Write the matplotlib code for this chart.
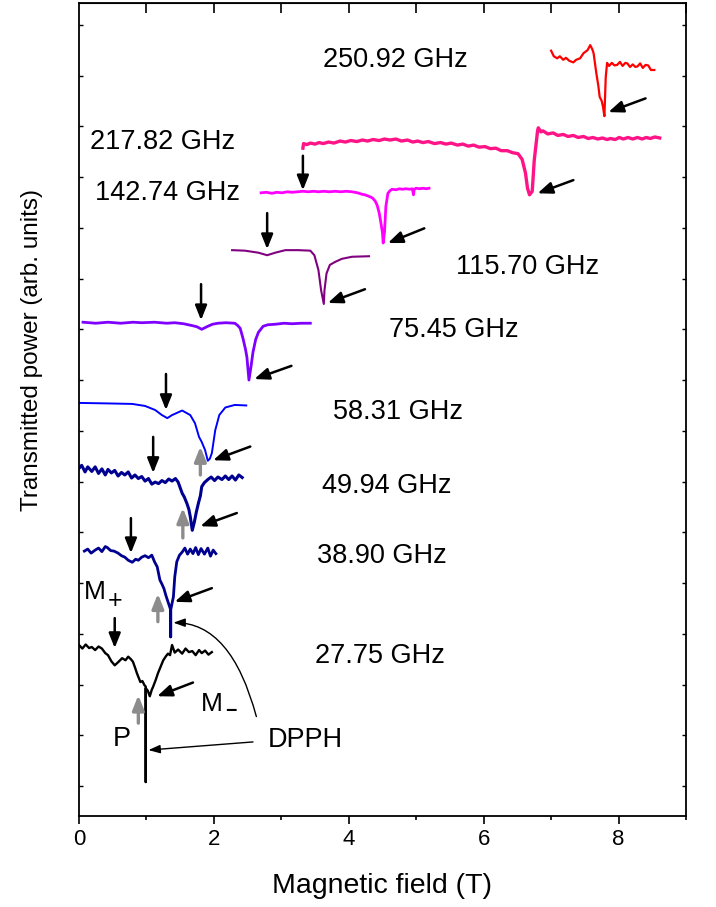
import matplotlib.pyplot as plt

plt.rcParams['font.family'] = ['Liberation Sans', 'DejaVu Sans']
plt.rcParams['mathtext.default'] = 'regular'

# --- spectra (field in T, transmitted power in arb. units, offset per frequency) ---
b_250 = [7.00, 7.04, 7.09, 7.13, 7.18, 7.22, 7.27, 7.33, 7.37, 7.43, 7.48, 7.54, 7.58, 7.61, 7.63,
         7.67, 7.70, 7.72, 7.75, 7.77, 7.79, 7.81, 7.83, 7.86, 7.90, 7.94, 7.98, 8.02, 8.06, 8.10,
         8.13, 8.17, 8.21, 8.25, 8.28, 8.32, 8.36, 8.40, 8.44, 8.48, 8.53]
p_250 = [14.49, 14.38, 14.34, 14.38, 14.31, 14.35, 14.29, 14.26, 14.31, 14.34, 14.44, 14.50, 14.60,
         14.52, 14.44, 14.05, 13.80, 13.58, 13.50, 13.38, 13.20, 13.97, 14.25, 14.19, 14.25, 14.20,
         14.21, 14.27, 14.19, 14.25, 14.24, 14.17, 14.22, 14.17, 14.18, 14.24, 14.15, 14.21, 14.20,
         14.11, 14.11]

b_217 = [3.32, 3.33, 3.38, 3.43, 3.50, 3.56, 3.62, 3.70, 3.78, 3.87, 3.95, 4.03, 4.12, 4.20, 4.28,
         4.36, 4.45, 4.53, 4.61, 4.70, 4.78, 4.87, 4.95, 5.02, 5.10, 5.18, 5.27, 5.36, 5.44, 5.52,
         5.61, 5.69, 5.77, 5.85, 5.93, 6.02, 6.10, 6.18, 6.26, 6.35, 6.43, 6.51, 6.57, 6.62, 6.65,
         6.68, 6.72, 6.75, 6.80, 6.81, 6.85, 6.88, 6.95, 7.03, 7.10, 7.18, 7.25, 7.33, 7.40, 7.48,
         7.55, 7.62, 7.69, 7.76, 7.83, 7.88, 7.95, 8.01, 8.07, 8.14, 8.21, 8.28, 8.35, 8.41, 8.47,
         8.54, 8.61]
p_217 = [12.57, 12.66, 12.64, 12.67, 12.65, 12.68, 12.66, 12.69, 12.67, 12.71, 12.69, 12.72, 12.70,
         12.73, 12.71, 12.74, 12.72, 12.75, 12.73, 12.75, 12.71, 12.73, 12.69, 12.71, 12.68, 12.70,
         12.66, 12.68, 12.65, 12.67, 12.63, 12.65, 12.61, 12.63, 12.59, 12.60, 12.56, 12.57, 12.52,
         12.52, 12.48, 12.46, 12.35, 12.08, 11.78, 11.65, 11.72, 12.33, 12.92, 12.97, 12.89, 12.91,
         12.85, 12.87, 12.82, 12.84, 12.80, 12.82, 12.78, 12.80, 12.76, 12.78, 12.75, 12.77, 12.74,
         12.76, 12.74, 12.78, 12.75, 12.78, 12.75, 12.78, 12.75, 12.78, 12.76, 12.79, 12.77]

b_142 = [2.70, 2.78, 2.86, 2.93, 3.01, 3.09, 3.16, 3.24, 3.32, 3.40, 3.48, 3.55, 3.63, 3.71, 3.80,
         3.88, 3.96, 4.05, 4.13, 4.20, 4.24, 4.30, 4.35, 4.39, 4.42, 4.45, 4.47, 4.50, 4.51, 4.53,
         4.55, 4.58, 4.61, 4.64, 4.70, 4.75, 4.79, 4.85, 4.90, 4.94, 4.95, 4.96, 4.97, 5.00, 5.05,
         5.10, 5.15, 5.19]
p_142 = [11.69, 11.70, 11.68, 11.70, 11.69, 11.71, 11.70, 11.71, 11.72, 11.71, 11.72, 11.71, 11.72,
         11.71, 11.72, 11.71, 11.72, 11.71, 11.69, 11.66, 11.65, 11.62, 11.59, 11.53, 11.45, 11.30,
         11.15, 10.90, 10.70, 10.92, 11.42, 11.68, 11.73, 11.76, 11.75, 11.77, 11.76, 11.77, 11.76,
         11.77, 11.72, 11.65, 11.76, 11.78, 11.77, 11.78, 11.77, 11.78]

b_115 = [2.27, 2.46, 2.66, 2.79, 2.91, 3.06, 3.25, 3.43, 3.49, 3.55, 3.59, 3.63, 3.64, 3.67, 3.72,
         3.80, 3.90, 4.05, 4.30]
p_115 = [10.56, 10.55, 10.51, 10.46, 10.51, 10.56, 10.56, 10.55, 10.46, 10.17, 9.77, 9.50, 9.77,
         10.10, 10.27, 10.33, 10.39, 10.43, 10.44]

b_75 = [0.06, 0.25, 0.43, 0.62, 0.80, 0.93, 1.12, 1.30, 1.42, 1.55, 1.62, 1.69, 1.75, 1.82, 1.91,
        1.98, 2.06, 2.18, 2.31, 2.35, 2.39, 2.43, 2.47, 2.49, 2.52, 2.55, 2.58, 2.62, 2.66, 2.73,
        2.80, 2.91, 3.04, 3.16, 3.30, 3.43]
p_75 = [9.14, 9.12, 9.14, 9.12, 9.14, 9.13, 9.14, 9.12, 9.13, 9.11, 9.09, 9.07, 9.05, 9.00, 9.06,
        9.10, 9.12, 9.13, 9.12, 9.08, 9.02, 8.83, 8.60, 8.45, 8.00, 8.26, 8.55, 8.80, 8.94, 9.06,
        9.09, 9.10, 9.12, 9.11, 9.12, 9.12]

b_58 = [0.00, 0.43, 0.79, 0.98, 1.13, 1.23, 1.31, 1.38, 1.53, 1.65, 1.72, 1.78, 1.82, 1.87, 1.91,
        1.94, 1.97, 2.02, 2.08, 2.17, 2.31, 2.48]
p_58 = [7.55, 7.54, 7.53, 7.49, 7.41, 7.31, 7.25, 7.31, 7.40, 7.31, 7.15, 6.88, 6.78, 6.62, 6.41,
        6.45, 6.56, 7.01, 7.31, 7.46, 7.51, 7.50]

b_49 = [0.00, 0.04, 0.09, 0.13, 0.19, 0.24, 0.29, 0.34, 0.39, 0.43, 0.48, 0.53, 0.58, 0.63, 0.68,
        0.73, 0.78, 0.83, 0.88, 0.93, 0.98, 1.03, 1.08, 1.13, 1.18, 1.23, 1.28, 1.33, 1.38, 1.43,
        1.47, 1.50, 1.53, 1.56, 1.60, 1.63, 1.65, 1.68, 1.71, 1.74, 1.77, 1.80, 1.82, 1.86, 1.91,
        1.96, 2.01, 2.06, 2.12, 2.17, 2.22, 2.27, 2.32, 2.37, 2.42]
p_49 = [6.26, 6.32, 6.19, 6.29, 6.20, 6.29, 6.16, 6.25, 6.13, 6.24, 6.17, 6.22, 6.11, 6.18, 6.13,
        6.19, 6.07, 6.13, 6.06, 6.10, 6.01, 6.06, 5.95, 5.99, 5.96, 6.02, 5.98, 6.05, 6.01, 6.06,
        5.99, 5.88, 5.77, 5.70, 5.57, 5.45, 5.31, 5.04, 5.20, 5.40, 5.57, 5.72, 5.90, 5.98, 6.04,
        6.09, 6.02, 6.09, 6.04, 6.11, 6.04, 6.11, 6.03, 6.13, 6.08]

b_38 = [0.08, 0.13, 0.18, 0.24, 0.29, 0.34, 0.39, 0.42, 0.47, 0.52, 0.58, 0.63, 0.68, 0.73, 0.79,
        0.84, 0.88, 0.93, 0.98, 1.03, 1.08, 1.12, 1.16, 1.20, 1.23, 1.26, 1.29, 1.32, 1.36, 1.36,
        1.36, 1.40, 1.42, 1.45, 1.49, 1.53, 1.57, 1.61, 1.65, 1.69, 1.73, 1.77, 1.81, 1.86, 1.91,
        1.95, 1.99, 2.03]
p_38 = [4.63, 4.67, 4.59, 4.65, 4.69, 4.62, 4.72, 4.70, 4.64, 4.63, 4.59, 4.54, 4.51, 4.45, 4.41,
        4.47, 4.45, 4.51, 4.54, 4.50, 4.55, 4.42, 4.32, 4.06, 3.98, 3.89, 3.75, 3.63, 3.47, 2.94,
        3.47, 3.73, 4.12, 4.42, 4.55, 4.61, 4.69, 4.57, 4.67, 4.58, 4.70, 4.56, 4.68, 4.57, 4.69,
        4.53, 4.65, 4.58]

b_27 = [0.00, 0.05, 0.10, 0.15, 0.19, 0.24, 0.29, 0.34, 0.39, 0.43, 0.48, 0.53, 0.58, 0.64, 0.69,
        0.73, 0.77, 0.80, 0.83, 0.86, 0.89, 0.91, 0.94, 0.97, 0.99, 0.99, 0.99, 1.02, 1.05, 1.08,
        1.10, 1.14, 1.17, 1.21, 1.25, 1.29, 1.32, 1.35, 1.38, 1.42, 1.47, 1.53, 1.58, 1.63, 1.68,
        1.73, 1.78, 1.82, 1.87, 1.92, 1.97]
p_27 = [2.78, 2.71, 2.79, 2.72, 2.74, 2.68, 2.75, 2.71, 2.62, 2.58, 2.46, 2.38, 2.44, 2.52, 2.48,
        2.55, 2.50, 2.45, 2.34, 2.22, 2.12, 2.05, 2.07, 1.99, 1.96, 0.08, 1.93, 1.88, 1.77, 1.90,
        1.96, 2.10, 2.22, 2.35, 2.48, 2.56, 2.61, 2.58, 2.78, 2.63, 2.69, 2.61, 2.71, 2.64, 2.66,
        2.58, 2.68, 2.62, 2.67, 2.59, 2.64]

traces = [
    (b_250, p_250, '#ff0000', 1.6),
    (b_217, p_217, '#ff1488', 2.4),
    (b_142, p_142, '#ff00ff', 2.0),
    (b_115, p_115, '#800080', 1.5),
    (b_75, p_75, '#8000ff', 2.0),
    (b_58, p_58, '#0000ff', 1.4),
    (b_49, p_49, '#000090', 2.2),
    (b_38, p_38, '#000090', 2.0),
    (b_27, p_27, '#000000', 1.7),
]

# frequency labels: text, x, y
freq_labels = ['250.92 GHz', '217.82 GHz', '142.74 GHz', '115.70 GHz', '75.45 GHz',
               '58.31 GHz', '49.94 GHz', '38.90 GHz', '27.75 GHz']
freq_x = [3.62, 0.16, 0.24, 5.59, 4.59, 3.77, 3.61, 3.53, 3.50]
freq_y = [14.31, 12.69, 11.68, 10.23, 8.99, 7.37, 5.91, 4.53, 2.56]

# M+ markers (black, pointing down): x, y_from, y_to
mplus_x = [3.32, 2.79, 1.81, 1.29, 1.10, 0.77, 0.53]
mplus_y0 = [12.42, 11.29, 9.89, 8.12, 6.88, 5.28, 3.31]
mplus_y1 = [11.74, 10.58, 9.18, 7.41, 6.17, 4.59, 2.72]

# M- markers (diagonal): tail (x, y) -> head (x, y)
mminus_tail_x = [8.40, 7.33, 5.12, 4.24, 3.15, 2.54, 2.34, 1.97, 1.69]
mminus_tail_y = [13.55, 11.94, 10.99, 9.79, 8.28, 6.69, 5.38, 3.90, 2.04]
mminus_head_x = [7.85, 6.80, 4.58, 3.69, 2.60, 1.99, 1.80, 1.42, 1.16]
mminus_head_y = [13.28, 11.68, 10.70, 9.52, 8.02, 6.42, 5.12, 3.63, 1.77]

# P markers (grey, pointing up)
p_x = [1.80, 1.54, 1.17, 0.88]
p_y0 = [6.13, 4.89, 3.24, 1.24]
p_y1 = [6.69, 5.48, 3.79, 1.79]

fig = plt.figure(figsize=(7.16, 9.07), dpi=100)
ax = fig.add_axes([0.1103, 0.1003, 0.8478, 0.8964])

for b, p, c, lw in traces:
    ax.plot(b, p, color=c, lw=lw)

for t, x, y in zip(freq_labels, freq_x, freq_y):
    ax.text(x, y, t, fontsize=19.5, ha='left', va='center')

arrow_head = '-|>,head_length=0.55,head_width=0.22'
for x, y0, y1 in zip(mplus_x, mplus_y0, mplus_y1):
    ax.annotate('', xy=(x, y1), xytext=(x, y0),
                arrowprops=dict(arrowstyle=arrow_head, color='black', lw=1.8,
                                mutation_scale=16, shrinkA=0, shrinkB=0))
for xt, yt, xh, yh in zip(mminus_tail_x, mminus_tail_y, mminus_head_x, mminus_head_y):
    ax.annotate('', xy=(xh, yh), xytext=(xt, yt),
                arrowprops=dict(arrowstyle=arrow_head, color='black', lw=1.8,
                                mutation_scale=16, shrinkA=0, shrinkB=0))
for x, y0, y1 in zip(p_x, p_y0, p_y1):
    ax.annotate('', xy=(x, y1), xytext=(x, y0),
                arrowprops=dict(arrowstyle=arrow_head, color='#8c8c8c', lw=2.4,
                                mutation_scale=16, shrinkA=0, shrinkB=0))

# labels for the 27.75 GHz spectrum and DPPH reference
ax.text(0.07, 3.82, 'M', fontsize=19, ha='left', va='center')
ax.text(0.43, 3.64, '+', fontsize=18, ha='left', va='center')
ax.text(1.80, 1.62, 'M', fontsize=19, ha='left', va='center')
ax.text(2.16, 1.47, '\u2212', fontsize=14, ha='left', va='center', fontweight='bold')
ax.text(0.50, 0.93, 'P', fontsize=19.5, ha='left', va='center')
ax.text(2.80, 0.91, 'DPPH', fontsize=19.5, ha='left', va='center')
ax.annotate('', xy=(1.03, 0.71), xytext=(2.58, 0.87),
            arrowprops=dict(arrowstyle='-|>,head_length=0.5,head_width=0.18', color='black',
                            lw=1.0, mutation_scale=14, shrinkA=0, shrinkB=0))
ax.annotate('', xy=(1.40, 3.22), xytext=(2.63, 1.37),
            arrowprops=dict(arrowstyle='-|>,head_length=0.5,head_width=0.18', color='black',
                            lw=1.0, mutation_scale=14, shrinkA=0, shrinkB=0,
                            connectionstyle='angle3,angleA=105,angleB=0'))

ax.set_xlim(0, 9)
ax.set_ylim(-0.59, 15.43)
ax.set_xticks([0, 2, 4, 6, 8])
ax.set_xticks([1, 3, 5, 7, 9], minor=True)
ax.set_yticks(range(16))
ax.set_yticklabels([])
ax.tick_params(axis='x', which='major', direction='out', length=6, width=1.2, labelsize=16, pad=3)
ax.tick_params(axis='x', which='minor', direction='out', length=3, width=1.2)
ax.tick_params(axis='y', direction='in', length=3, width=1.0, left=True, right=True)
for s in ax.spines.values():
    s.set_linewidth(1.3)

# top axis: inward ticks only
top = ax.secondary_xaxis('top')
top.set_xticks([1, 2, 3, 4, 5, 6, 7, 8, 9])
top.tick_params(direction='in', length=7, width=1.2, labeltop=False)

ax.set_xlabel('Magnetic field (T)', fontsize=20.5)
ax.set_ylabel('Transmitted power (arb. units)', fontsize=17.5)
ax.xaxis.set_label_coords(0.5, -0.070)
ax.yaxis.set_label_coords(-0.059, 0.573)

plt.savefig('out.png', dpi=100)
plt.close()
